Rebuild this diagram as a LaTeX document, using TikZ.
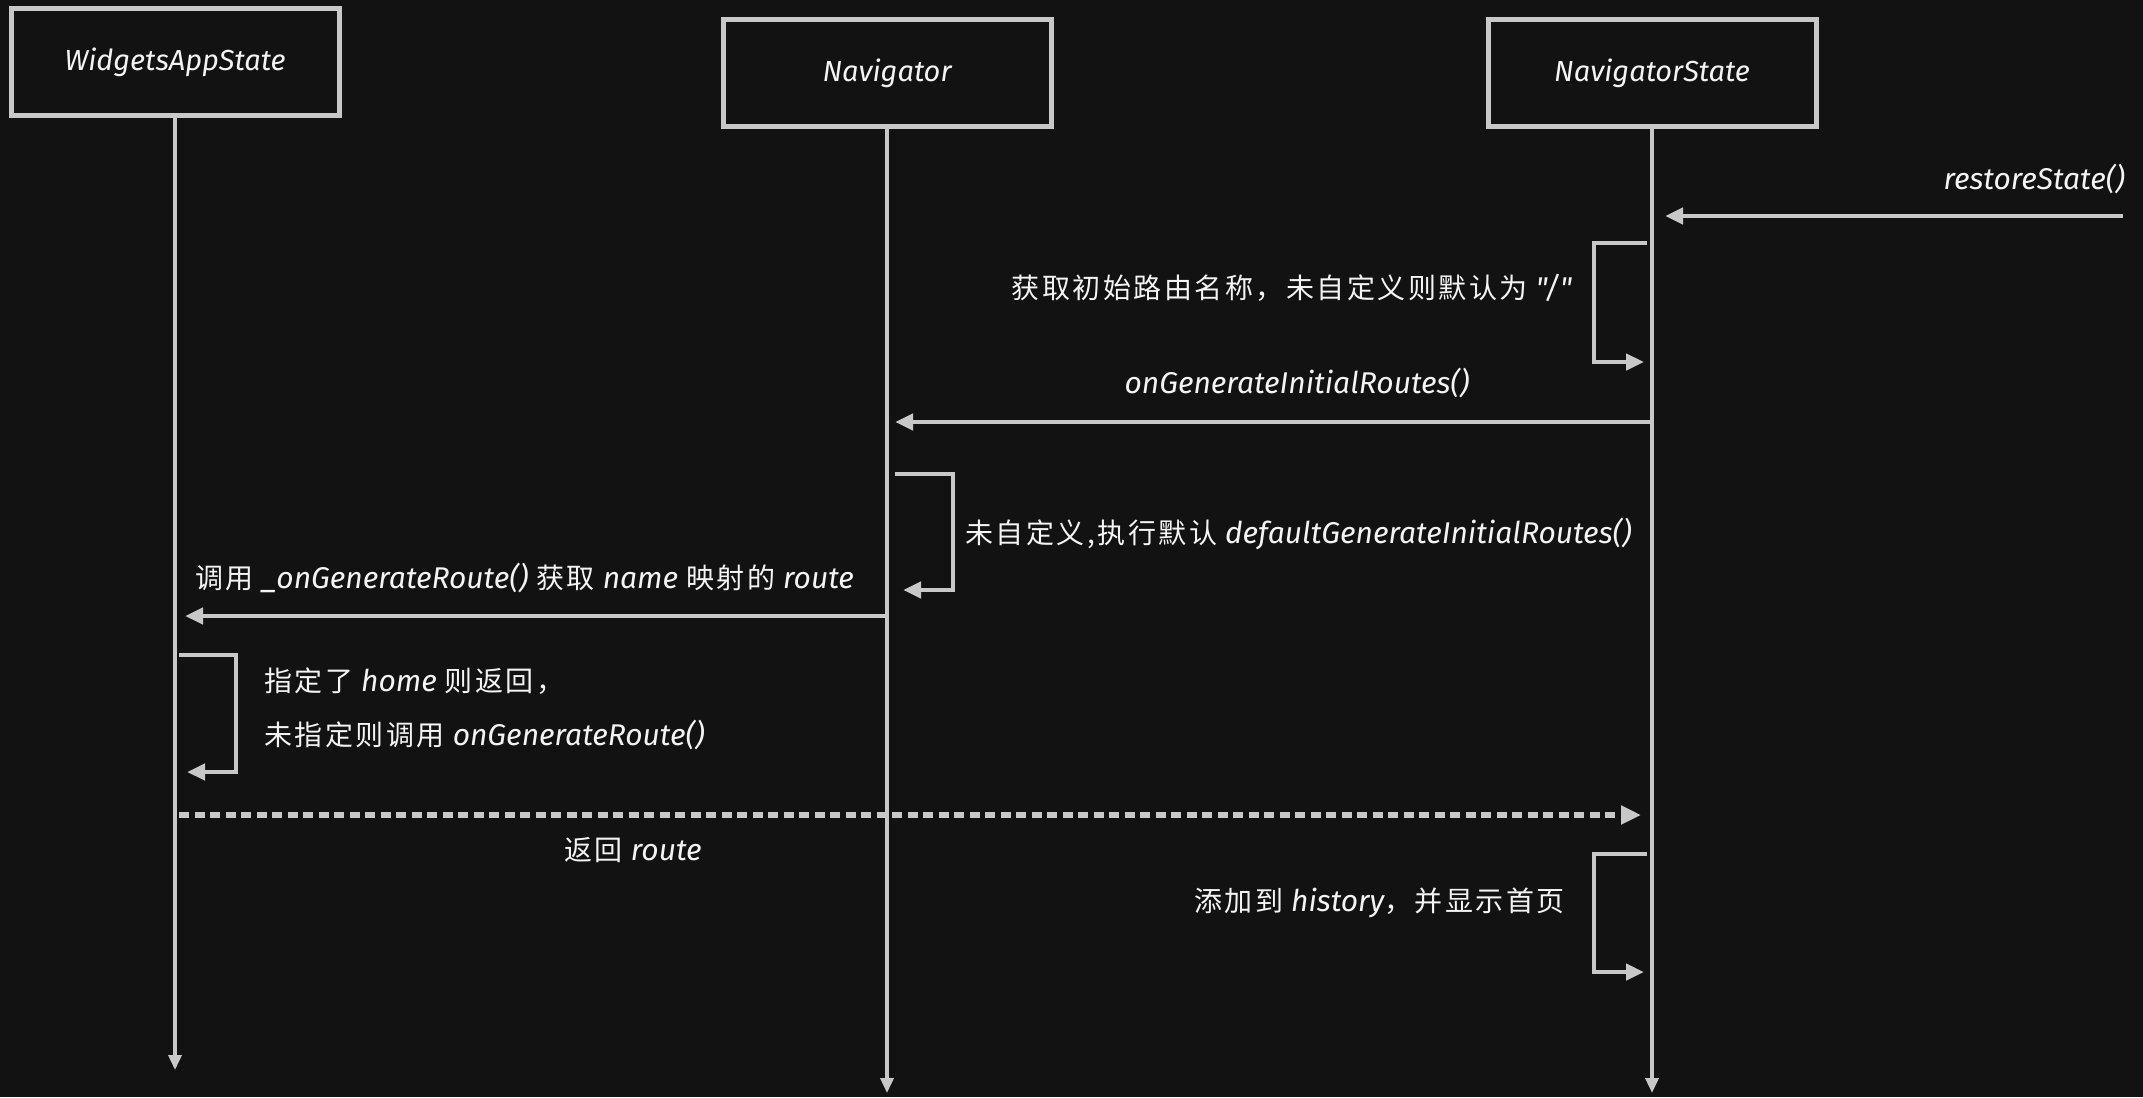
\documentclass[tikz,border=0pt]{standalone}
\usepackage{fontspec}
\setmainfont{Fira Sans}
\newfontfamily\enplain{Fira Sans}
\newfontfamily\cjk[LetterSpace=9]{Noto Sans CJK SC}
\usetikzlibrary{arrows.meta}
\definecolor{bg}{HTML}{121212}
\definecolor{ln}{HTML}{C8C8C8}
\definecolor{tx}{HTML}{F4F4F4}
\newcommand\zh[1]{{\cjk\upshape\fontsize{28}{34}\selectfont #1}}
\newcommand\en[1]{{\itshape #1}}
\begin{document}
\begin{tikzpicture}[x=1pt,y=-1pt,
 actor/.style={draw=ln, line width=5pt, fill=bg, minimum width=328pt, minimum height=107pt, text=tx, font=\fontsize{29}{34}\selectfont\itshape},
 life/.style={draw=ln, line width=3.5pt, -{Triangle[length=15pt,width=13pt]}},
 msg/.style={draw=ln, line width=4.5pt, -{Triangle[length=18pt,width=16pt]}},
 ret/.style={draw=ln, line width=6.5pt, dash pattern=on 10pt off 5.5pt, -{Triangle[length=20pt,width=18pt]}},
 lbl/.style={text=tx, font=\fontsize{30}{36}\selectfont, inner sep=0pt}
]
\fill[bg] (0,0) rectangle (2143,1097);
\useasboundingbox (0,0) rectangle (2143,1097);

% actors
\node[actor] (was) at (175,62) {WidgetsAppState};
\node[actor] (nav) at (887,73) {Navigator};
\node[actor] (ns) at (1652,73) {NavigatorState};

% lifelines
\coordinate (wasEnd) at (175,1070);
\coordinate (navEnd) at (887,1093);
\coordinate (nsEnd) at (1652,1093);
\draw[life] (was.south) -- (wasEnd);
\draw[life] (nav.south) -- (navEnd);
\draw[life] (ns.south) -- (nsEnd);

% restoreState
\coordinate (rsA) at (2123,216);
\coordinate (rsB) at (1665,216);
\draw[msg] (rsA) -- (rsB);
\node[lbl, anchor=east] (rsL) at (2125,179) {\en{restoreState()}};

% loop 1
\coordinate (l1a) at (1647,243);
\coordinate (l1b) at (1644,362);
\draw[msg] (l1a) -- (1594,243) -- (1594,362) -- (l1b);
\node[lbl, anchor=east] (l1L) at (1572,288) {\zh{获取初始路由名称，未自定义则默认为} {\enplain\itshape "/"}};

% onGenerateInitialRoutes
\coordinate (ogA) at (1652,422);
\coordinate (ogB) at (895,422);
\draw[msg] (ogA) -- (ogB);
\node[lbl] (ogL) at (1297,383) {\en{onGenerateInitialRoutes()}};

% loop 2
\coordinate (l2a) at (895,474);
\coordinate (l2b) at (903,590);
\draw[msg] (l2a) -- (953,474) -- (953,590) -- (l2b);
\node[lbl, anchor=west] (l2L) at (965,534) {\zh{未自定义,执行默认} \en{defaultGenerateInitialRoutes()}};

% call _onGenerateRoute
\coordinate (cgA) at (887,616);
\coordinate (cgB) at (185,616);
\draw[msg] (cgA) -- (cgB);
\node[lbl, anchor=west] (cgL) at (195,578) {\zh{调用} \en{\_onGenerateRoute()} \zh{获取} \en{name} \zh{映射的} \en{route}};

% loop 3
\coordinate (l3a) at (179,655);
\coordinate (l3b) at (187,772);
\draw[msg] (l3a) -- (236,655) -- (236,772) -- (l3b);
\node[lbl, anchor=west] (l3L1) at (264,681) {\zh{指定了} \en{home} \zh{则返回，}};
\node[lbl, anchor=west] (l3L2) at (264,735) {\zh{未指定则调用} \en{onGenerateRoute()}};

% return route
\coordinate (rtA) at (179,815);
\coordinate (rtB) at (1641,815);
\draw[ret] (rtA) -- (rtB);
\node[lbl] (rtL) at (633,850) {\zh{返回} \en{route}};

% loop 4
\coordinate (l4a) at (1647,854);
\coordinate (l4b) at (1644,972);
\draw[msg] (l4a) -- (1594,854) -- (1594,972) -- (l4b);
\node[lbl, anchor=east] (l4L) at (1565,903) {\zh{添加到} \en{history}\zh{，并显示首页}};
\end{tikzpicture}
\end{document}
